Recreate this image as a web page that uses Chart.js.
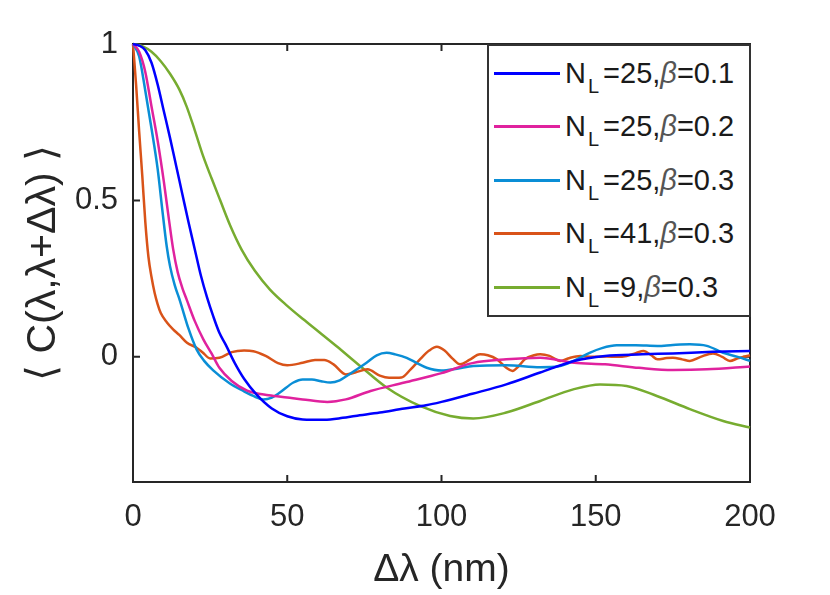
<!DOCTYPE html>
<html lang="en">

<head>
    <meta charset="UTF-8">
    <title>Correlation vs wavelength shift</title>
    <script src="https://cdn.jsdelivr.net/npm/chart.js"></script>
    <style>
        body { margin: 0; background: #fff; }
        .quadro { position: relative; width: 830px; height: 595px; }
        #legenda {
            position: absolute; left: 487px; top: 44px; width: 264px; height: 273px;
            border: 2px solid #333; background: #fff; box-sizing: border-box;
            font-family: 'Liberation Sans', Arial, sans-serif; font-size: 29px; color: #1a1a1a;
        }
        .linha { position: absolute; left: 0; height: 54px; display: flex; align-items: center; }
        .amostra { width: 66px; height: 3px; margin-left: 5px; }
        .texto { margin-left: 5px; line-height: 1; white-space: nowrap; }
        .sub { font-size: 20px; position: relative; top: 10px; margin: 0 4px 0 2px; }
        .beta { font-style: italic; color: #555; }
    </style>
</head>

<body>
    <div class="quadro">
        <canvas id="grafico" width="830" height="595"></canvas>
        <div id="legenda"></div>
    </div>

<script>
    // ticks
    var xTicks = [0, 50, 100, 150, 200];
    var yTicks = [0, 0.5, 1];

    // legend info
    var legendNL = [25, 25, 25, 41, 9];
    var legendBeta = ['0.1', '0.2', '0.3', '0.3', '0.3'];
    var cores = ['#0000FF', '#E0229E', '#0A8ED6', '#D95319', '#77AC30'];

    // N_L=25, beta=0.1
    var lagAzul = [0, 2, 4, 6, 8, 10, 12, 14, 16, 18, 20, 22, 24, 26, 28, 30, 33, 36, 40, 45, 50, 55, 62, 68, 72, 80, 88, 95, 100, 110, 121, 132, 143, 153, 165, 175, 188, 200];
    var valAzul = [1, 0.995, 0.98, 0.94, 0.87, 0.785, 0.7, 0.61, 0.52, 0.43, 0.345, 0.26, 0.19, 0.13, 0.077, 0.04, -0.02, -0.07, -0.12, -0.165, -0.19, -0.2, -0.201, -0.195, -0.189, -0.178, -0.165, -0.155, -0.144, -0.118, -0.088, -0.05, -0.013, 0.003, 0.008, 0.011, 0.016, 0.019];

    // N_L=25, beta=0.2
    var lagMagenta = [0, 2, 4, 6, 8, 10, 11.5, 13, 14.5, 16, 17.4, 20, 22.8, 25.5, 28, 32, 37, 44, 50, 55, 63, 69, 77, 88, 100, 110, 121, 132, 143, 153, 164, 175, 186, 200];
    var valMagenta = [1, 0.975, 0.91, 0.8, 0.69, 0.56, 0.45, 0.345, 0.27, 0.22, 0.183, 0.115, 0.056, 0.01, -0.035, -0.077, -0.108, -0.123, -0.13, -0.136, -0.144, -0.136, -0.109, -0.082, -0.052, -0.02, -0.008, -0.003, -0.019, -0.024, -0.035, -0.042, -0.04, -0.031];

    // N_L=25, beta=0.3
    var lagCiano = [0, 2, 4, 6, 8, 9.5, 10.9, 12, 13.5, 15.2, 18, 20.6, 23, 26, 31.4, 36, 39, 42.2, 45, 47.6, 52, 55, 58, 61, 64, 67, 69.3, 75.7, 79, 82.2, 85, 88.7, 92, 95.2, 100, 105, 110.3, 121, 132, 138, 143, 148, 152, 156.8, 163, 170, 175, 180.5, 186, 191.3, 196, 200];
    var valCiano = [1, 0.96, 0.85, 0.73, 0.6, 0.47, 0.355, 0.29, 0.23, 0.18, 0.09, 0.024, -0.012, -0.043, -0.085, -0.11, -0.125, -0.136, -0.13, -0.114, -0.082, -0.072, -0.072, -0.078, -0.082, -0.075, -0.061, -0.019, 0.005, 0.013, 0.008, -0.003, -0.02, -0.035, -0.044, -0.038, -0.029, -0.027, -0.033, -0.03, -0.012, 0.013, 0.028, 0.037, 0.037, 0.035, 0.038, 0.04, 0.035, 0.013, 0, -0.013];

    // N_L=41, beta=0.3
    var lagLaranja = [0, 1, 2, 3, 4, 5, 6, 7, 8, 9, 11, 13, 15, 17.5, 20.5, 22.5, 25, 28, 32, 36, 39, 43, 47, 50, 55, 59, 62, 65, 69, 72, 76, 80, 83, 87, 90, 93, 96, 98.5, 101, 103.5, 106, 109, 112.5, 115, 118, 121, 123, 125, 127, 130, 132, 135, 138.5, 141, 145, 149, 153.5, 157, 160, 163, 165.5, 168, 170, 173, 175, 178, 180.5, 184, 188, 191, 193.5, 196, 200];
    var valLaranja = [1, 0.87, 0.72, 0.58, 0.43, 0.32, 0.255, 0.205, 0.168, 0.14, 0.11, 0.088, 0.07, 0.045, 0.03, 0.015, -0.005, -0.003, 0.015, 0.02, 0.018, 0.003, -0.02, -0.027, -0.019, -0.01, -0.01, -0.024, -0.056, -0.05, -0.04, -0.06, -0.067, -0.066, -0.04, -0.008, 0.02, 0.032, 0.02, -0.005, -0.024, -0.01, 0.008, 0.005, -0.008, -0.035, -0.045, -0.03, -0.008, 0.005, 0.008, 0.003, -0.013, -0.005, 0.003, 0, 0.001, 0, 0.003, 0.012, 0.019, 0.005, -0.008, -0.004, -0.003, -0.008, -0.013, 0, 0.011, 0, -0.013, -0.005, 0.005];

    // N_L=9, beta=0.3
    var lagVerde = [0, 3, 6, 9, 12, 15, 17.4, 20, 22.8, 25.5, 28.2, 31.5, 35.2, 39.5, 44.4, 50, 55.2, 60, 66, 73.6, 82.2, 93, 102.8, 110.3, 121, 132, 142.7, 151.4, 160, 169.8, 180.5, 191.3, 200];
    var valVerde = [1, 0.993, 0.975, 0.945, 0.905, 0.855, 0.8, 0.725, 0.64, 0.57, 0.502, 0.42, 0.343, 0.275, 0.215, 0.163, 0.12, 0.082, 0.034, -0.029, -0.098, -0.157, -0.189, -0.197, -0.178, -0.141, -0.104, -0.088, -0.093, -0.125, -0.167, -0.205, -0.226];

    var fonte = "'Liberation Sans', Arial, sans-serif";
    var corEixo = '#262626';

    function pares(xs, ys) {
        return xs.map(function (x, i) { return { x: x, y: ys[i] }; });
    }

    var series = [
        pares(lagAzul, valAzul),
        pares(lagMagenta, valMagenta),
        pares(lagCiano, valCiano),
        pares(lagLaranja, valLaranja),
        pares(lagVerde, valVerde)
    ];

    // box + inward ticks like matlab
    var moldura = {
        id: 'moldura',
        beforeDatasetsDraw: function (chart) {
            var ctx = chart.ctx;
            var a = chart.chartArea;
            var sx = chart.scales.x, sy = chart.scales.y;
            ctx.save();
            ctx.strokeStyle = corEixo;
            ctx.lineWidth = 2;
            ctx.strokeRect(a.left, a.top, a.right - a.left, a.bottom - a.top);
            ctx.beginPath();
            xTicks.forEach(function (v) {
                var px = sx.getPixelForValue(v);
                ctx.moveTo(px, a.bottom); ctx.lineTo(px, a.bottom - 7);
                ctx.moveTo(px, a.top); ctx.lineTo(px, a.top + 7);
            });
            yTicks.forEach(function (v) {
                var py = sy.getPixelForValue(v);
                ctx.moveTo(a.left, py); ctx.lineTo(a.left + 7, py);
                ctx.moveTo(a.right, py); ctx.lineTo(a.right - 7, py);
            });
            ctx.stroke();
            ctx.restore();
        }
    };

    var config = {
        type: 'line',
        data: {
            datasets: series.map(function (dados, i) {
                return {
                    label: 'N_L=' + legendNL[i] + ',β=' + legendBeta[i],
                    data: dados,
                    borderColor: cores[i],
                    borderWidth: 2.5,
                    pointRadius: 0,
                    fill: false,
                    cubicInterpolationMode: 'monotone',
                    clip: 6
                };
            })
        },
        options: {
            responsive: false,
            animation: false,
            layout: { padding: { top: 44, right: 80, left: 0, bottom: 0 } },
            plugins: { legend: { display: false }, tooltip: { enabled: false } },
            scales: {
                x: {
                    type: 'linear', min: 0, max: 200,
                    afterBuildTicks: function (s) { s.ticks = xTicks.map(function (v) { return { value: v }; }); },
                    afterFit: function (s) { s.height = 113; },
                    grid: { display: false, drawTicks: false },
                    border: { display: false },
                    ticks: { font: { family: fonte, size: 31 }, color: corEixo, padding: 17, maxRotation: 0,
                        callback: function (v) { return String(v); } },
                    title: { display: true, text: 'Δλ (nm)', font: { family: fonte, size: 39 }, color: corEixo,
                        padding: { top: 0, bottom: 1 } }
                },
                y: {
                    type: 'linear', min: -0.4, max: 1,
                    afterBuildTicks: function (s) { s.ticks = yTicks.map(function (v) { return { value: v }; }); },
                    afterFit: function (s) { s.width = 133; },
                    grid: { display: false, drawTicks: false },
                    border: { display: false },
                    ticks: { font: { family: fonte, size: 31 }, color: corEixo, padding: 15,
                        callback: function (v) { return String(v); } },
                    title: { display: true, text: '⟨ C(λ,λ+Δλ) ⟩', font: { family: fonte, size: 41 }, color: corEixo,
                        padding: { top: 19, bottom: 0 } }
                }
            }
        },
        plugins: [moldura]
    };

    const meuGrafico = new Chart(document.getElementById('grafico'), config);

    // legend in html so the subscript and italic beta stay real text
    var legenda = document.getElementById('legenda');
    legendNL.forEach(function (n, i) {
        var linha = document.createElement('div');
        linha.className = 'linha';
        linha.style.top = (53.5 * i) + 'px';
        linha.innerHTML = '<div class="amostra" style="background:' + cores[i] + '"></div>' +
            '<span class="texto">N<span class="sub">L</span>=' + n + ',<span class="beta">β</span>=' + legendBeta[i] + '</span>';
        legenda.appendChild(linha);
    });
</script>

</body>

</html>
